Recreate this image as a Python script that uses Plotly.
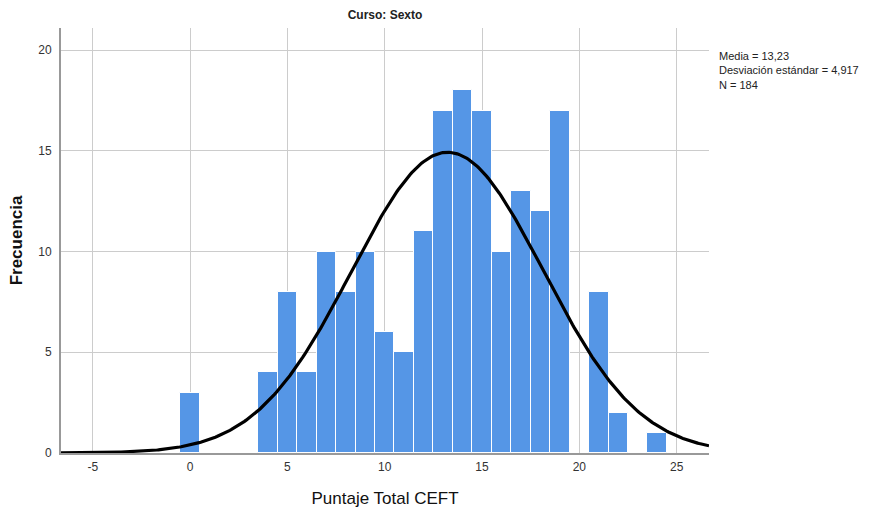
import numpy as np
import plotly.graph_objects as go

# Data
scores = [0, 4, 5, 6, 7, 8, 9, 10, 11, 12, 13, 14, 15, 16, 17, 18, 19, 21, 22, 24]
freqs = [3, 4, 8, 4, 10, 8, 10, 6, 5, 11, 17, 18, 17, 10, 13, 12, 17, 8, 2, 1]
mean = 13.23
sd = 4.917
n = 184
x_ticks = [-5, 0, 5, 10, 15, 20, 25]
y_ticks = [0, 5, 10, 15, 20]

x_range = [-6.63, 26.66]
y_range = [0, 21.1]

xs = np.linspace(x_range[0], x_range[1], 400)
ys = n * 1.0 * np.exp(-0.5 * ((xs - mean) / sd) ** 2) / (sd * np.sqrt(2 * np.pi))

FONT = "Liberation Sans, Arial, sans-serif"

fig = go.Figure()
fig.add_trace(go.Bar(
    x=scores, y=freqs, width=1.0,
    marker=dict(color="#5596e6", line=dict(color="#ffffff", width=1)),
    hoverinfo="x+y", showlegend=False,
))
fig.add_trace(go.Scatter(
    x=xs, y=ys, mode="lines",
    line=dict(color="#000000", width=3.2), showlegend=False, cliponaxis=True,
))

fig.update_layout(
    width=873, height=513,
    margin=dict(l=61, r=164, t=28, b=60),
    paper_bgcolor="white", plot_bgcolor="white",
    font=dict(family=FONT, color="#333333", size=12),
    title=dict(text="<b>Curso: Sexto</b>", x=(61 + 709) / 2 / 873, xanchor="center",
               y=1 - 15 / 513, yanchor="middle", font=dict(size=12, color="#222222", family=FONT)),
    bargap=0,
    annotations=[dict(
        text="Media = 13,23<br>Desviación estándar = 4,917<br>N = 184",
        xref="paper", yref="paper", x=1.0 + 8 / 648, y=1 - 20 / 425,
        xanchor="left", yanchor="top", align="left", showarrow=False,
        font=dict(size=11, color="#222222", family=FONT),
    )],
)
fig.update_xaxes(
    range=x_range, tickvals=x_ticks, ticktext=[str(t) for t in x_ticks],
    showgrid=True, gridcolor="#cccccc", gridwidth=1.3,
    showline=True, linecolor="#999999", linewidth=2,
    ticks="", zeroline=False, tickfont=dict(size=12, color="#333333"),
    ticklabelstandoff=2, automargin=False,
    title=dict(text="Puntaje Total CEFT", font=dict(size=17, color="#111111", family=FONT), standoff=19),
)
fig.update_yaxes(
    range=y_range, tickvals=y_ticks, ticktext=[str(t) for t in y_ticks],
    showgrid=True, gridcolor="#cccccc", gridwidth=1.3,
    showline=True, linecolor="#999999", linewidth=2,
    ticks="", zeroline=False, tickfont=dict(size=12, color="#333333"),
    ticklabelstandoff=5, automargin=False,
    title=dict(text="<b>Frecuencia</b>", font=dict(size=17, color="#111111", family=FONT), standoff=11),
)

fig.write_html("out.html")
